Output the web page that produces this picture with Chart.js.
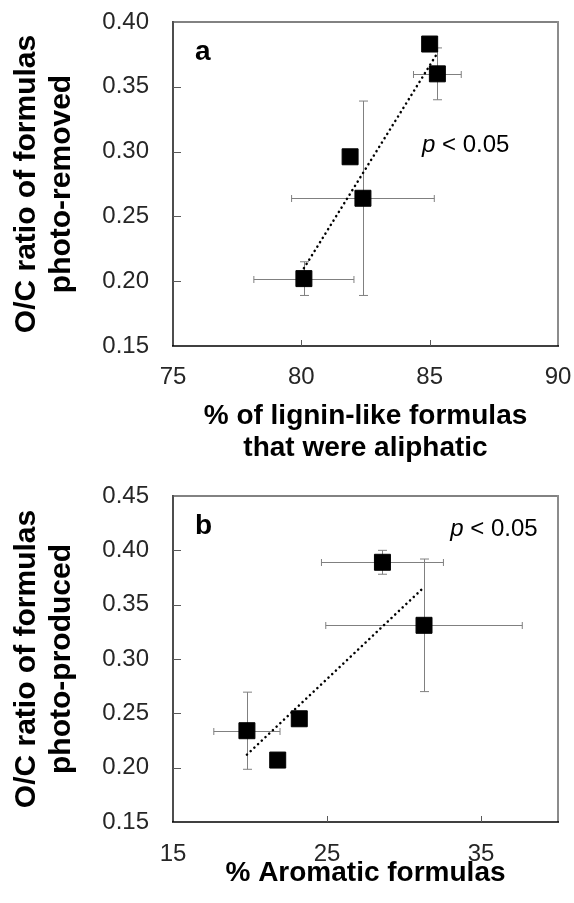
<!DOCTYPE html>
<html>
<head>
<meta charset="utf-8">
<script src="https://cdn.jsdelivr.net/npm/chart.js@4.4.1/dist/chart.umd.min.js"></script>
<style>
  html, body { margin: 0; padding: 0; background: #fff; }
  .panel { position: absolute; left: 0; width: 574px; }
  #wrapA { top: 0; height: 470px; }
  #wrapB { top: 470px; height: 433px; }
</style>
</head>
<body>
<div class="panel" id="wrapA"><canvas id="chartA" width="574" height="470"></canvas></div>
<div class="panel" id="wrapB"><canvas id="chartB" width="574" height="433"></canvas></div>
<script>
/* ---- panel a : O/C of photo-removed formulas vs % aliphatic lignin-like ---- */
const aAliphatic  = [80.1, 81.9, 82.4, 85.0, 85.3];
const aOCRemoved  = [0.202, 0.296, 0.264, 0.383, 0.360];
const aAliphErr   = [1.95, 0, 2.78, 0, 0.93];
const aOCErr      = [0.013, 0, 0.075, 0, 0.020];
const aTrendX     = [80.1, 85.3];
const aTrendY     = [0.210, 0.376];
const aTicksX     = [75, 80, 85, 90];
const aTicksY     = [0.15, 0.20, 0.25, 0.30, 0.35, 0.40];

/* ---- panel b : O/C of photo-produced formulas vs % aromatic ---- */
const bAromatic   = [19.8, 21.8, 23.2, 28.6, 31.3];
const bOCProduced = [0.234, 0.207, 0.245, 0.389, 0.331];
const bAromErr    = [2.15, 0, 0, 3.96, 6.38];
const bOCErr      = [0.0355, 0, 0, 0.011, 0.061];
const bTrendX     = [19.8, 31.3];
const bTrendY     = [0.212, 0.366];
const bTicksX     = [15, 25, 35];
const bTicksY     = [0.15, 0.20, 0.25, 0.30, 0.35, 0.40, 0.45];

const FONT = '"Liberation Sans", Arial, Helvetica, sans-serif';
const zip = (xs, ys) => xs.map((x, i) => ({ x, y: ys[i] }));

// error bars under the squares, frame + inward ticks + panel text on top
function decor(letter, pPos, xErr, yErr) {
  const seg = (ctx, x1, y1, x2, y2) => { ctx.beginPath(); ctx.moveTo(x1, y1); ctx.lineTo(x2, y2); ctx.stroke(); };
  return {
    id: 'decor',
    beforeDatasetsDraw(chart) {
      const { ctx, scales: { x, y } } = chart;
      const pts = chart.data.datasets[1].data;
      ctx.save();
      ctx.strokeStyle = '#808080';
      ctx.lineWidth = 1;
      pts.forEach((p, i) => {
        const px = Math.round(x.getPixelForValue(p.x)) + 0.5;
        const py = Math.round(y.getPixelForValue(p.y)) + 0.5;
        if (xErr[i]) {
          const l = x.getPixelForValue(p.x - xErr[i]), r = x.getPixelForValue(p.x + xErr[i]);
          seg(ctx, l, py, r, py);
          seg(ctx, l, py - 3.5, l, py + 3.5);
          seg(ctx, r, py - 3.5, r, py + 3.5);
        }
        if (yErr[i]) {
          const t = y.getPixelForValue(p.y + yErr[i]), b = y.getPixelForValue(p.y - yErr[i]);
          seg(ctx, px, t, px, b);
          seg(ctx, px - 4.5, t, px + 4.5, t);
          seg(ctx, px - 4.5, b, px + 4.5, b);
        }
      });
      ctx.restore();
    },
    afterDraw(chart) {
      const { ctx, chartArea: a, scales: { x, y } } = chart;
      ctx.save();
      // frame
      ctx.lineWidth = 2;
      ctx.strokeStyle = '#4d4d4d'; seg(ctx, a.left, a.top - 1, a.left, a.bottom);
      ctx.lineWidth = 1.5;
      ctx.strokeStyle = '#595959'; seg(ctx, a.left, a.top, a.right, a.top);
      ctx.lineWidth = 2;
      ctx.strokeStyle = '#8c8c8c'; seg(ctx, a.right, a.top - 1, a.right, a.bottom);
      ctx.lineWidth = 1.5;
      ctx.strokeStyle = '#000'; seg(ctx, a.left - 1, a.bottom, a.right + 1, a.bottom);
      // inward tick marks
      ctx.lineWidth = 1;
      ctx.strokeStyle = '#595959';
      x.ticks.forEach(t => {
        if (t.value === x.min || t.value === x.max) return;
        const px = Math.round(x.getPixelForValue(t.value)) + 0.5;
        seg(ctx, px, a.bottom, px, a.bottom - 6);
      });
      y.ticks.forEach(t => {
        if (t.value === y.min || t.value === y.max) return;
        const py = Math.round(y.getPixelForValue(t.value)) + 0.5;
        seg(ctx, a.left, py, a.left + 8, py);
      });
      // panel letter
      ctx.fillStyle = '#000';
      ctx.textBaseline = 'alphabetic';
      ctx.textAlign = 'left';
      ctx.font = 'bold 28px ' + FONT;
      ctx.fillText(letter, a.left + 22, a.top + 37.5);
      // significance note
      const tx = x.getPixelForValue(pPos[0]), ty = y.getPixelForValue(pPos[1]);
      ctx.font = 'italic 24px ' + FONT;
      ctx.fillText('p', tx, ty);
      const w = ctx.measureText('p').width;
      ctx.font = '24px ' + FONT;
      ctx.fillText(' < 0.05', tx + w, ty);
      ctx.restore();
    }
  };
}

function makeChart(id, cfg) {
  const tickFont = { family: FONT, size: 24 };
  return new Chart(document.getElementById(id), {
    type: 'scatter',
    data: {
      datasets: [
        { data: zip(cfg.trendX, cfg.trendY), showLine: true, pointRadius: 0,
          borderColor: '#000', borderWidth: 2.5, borderDash: [0.1, 5],
          borderCapStyle: 'round', order: 0 },
        { data: zip(cfg.xs, cfg.ys), pointStyle: 'rect', pointRadius: 11.3,
          backgroundColor: '#000', borderColor: '#000', borderWidth: 1, order: 1 }
      ]
    },
    options: {
      responsive: false,
      animation: false,
      events: [],
      layout: { padding: { left: 0, right: 16, top: cfg.padTop, bottom: 0 } },
      plugins: { legend: { display: false }, tooltip: { enabled: false } },
      scales: {
        x: {
          type: 'linear', min: cfg.xTicks[0], max: cfg.xMax,
          grid: { display: false, drawTicks: false },
          border: { display: false },
          afterBuildTicks: s => { s.ticks = cfg.xTicks.map(v => ({ value: v })); },
          afterFit: s => { s.height = cfg.xHeight; s.paddingLeft = 0; s.paddingRight = 0; },
          ticks: { font: tickFont, color: '#262626', padding: cfg.xPad, maxRotation: 0 },
          title: { display: true, text: cfg.xTitle, color: '#000',
                   font: { family: FONT, size: 28, weight: 'bold', lineHeight: 1.125 },
                   padding: { top: 0, bottom: cfg.xTitlePad } }
        },
        y: {
          type: 'linear', min: cfg.yTicks[0], max: cfg.yTicks[cfg.yTicks.length - 1],
          grid: { display: false, drawTicks: false },
          border: { display: false },
          afterBuildTicks: s => { s.ticks = cfg.yTicks.map(v => ({ value: v })); },
          afterFit: s => { s.width = 173; s.paddingTop = 0; s.paddingBottom = 0; },
          ticks: { font: tickFont, color: '#262626', padding: 24, callback: v => v.toFixed(2) },
          title: { display: true, text: cfg.yTitle, color: '#000',
                   font: { family: FONT, size: 30, weight: 'bold', lineHeight: 1.167 },
                   padding: { top: 8.8, bottom: 0 } }
        }
      }
    },
    plugins: [decor(cfg.letter, cfg.pPos, cfg.xErr, cfg.yErr)]
  });
}

makeChart('chartA', {
  xs: aAliphatic, ys: aOCRemoved, xErr: aAliphErr, yErr: aOCErr,
  trendX: aTrendX, trendY: aTrendY, xTicks: aTicksX, xMax: 90, yTicks: aTicksY,
  xTitle: ['% of lignin-like formulas', 'that were aliphatic'],
  yTitle: ['O/C ratio of formulas', 'photo-removed'],
  letter: 'a', pPos: [84.7, 0.2995],
  padTop: 22, xHeight: 124, xPad: 17, xTitlePad: 6
});

makeChart('chartB', {
  xs: bAromatic, ys: bOCProduced, xErr: bAromErr, yErr: bOCErr,
  trendX: bTrendX, trendY: bTrendY, xTicks: bTicksX, xMax: 40, yTicks: bTicksY,
  xTitle: '% Aromatic formulas',
  yTitle: ['O/C ratio of formulas', 'photo-produced'],
  letter: 'b', pPos: [33.0, 0.4128],
  padTop: 26, xHeight: 81, xPad: 18, xTitlePad: 14
});
</script>
</body>
</html>
